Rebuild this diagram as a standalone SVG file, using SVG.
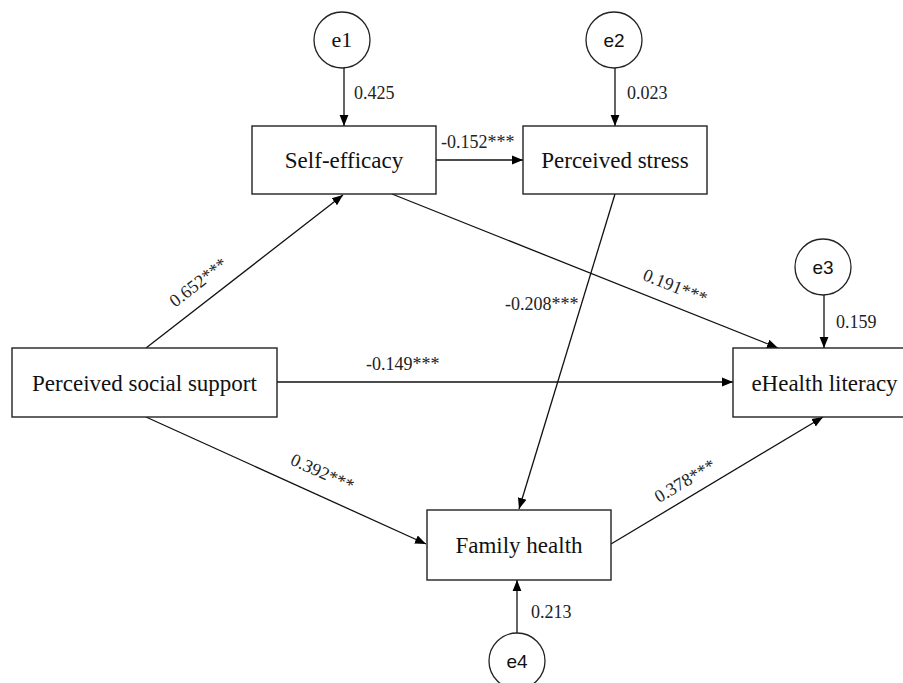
<svg xmlns="http://www.w3.org/2000/svg" width="903" height="683" viewBox="0 0 903 683">
<defs>
<marker id="arr" viewBox="0 0 10 10" refX="10" refY="5" markerWidth="11" markerHeight="11" markerUnits="userSpaceOnUse" orient="auto">
<path d="M0,1 L10,5 L0,9 Z" fill="#000"/>
</marker>
<style>
.box{fill:#fff;stroke:#222;stroke-width:1.4}
.circ{fill:#fff;stroke:#222;stroke-width:1.3}
.lbl{font-family:"Liberation Serif","Times New Roman",serif;font-size:23px;fill:#111;text-anchor:middle}
.err{font-family:"Liberation Sans",Arial,sans-serif;font-size:19px;fill:#111;text-anchor:middle}
.num{font-family:"Liberation Serif","Times New Roman",serif;font-size:18px;fill:#222}
.conn line{stroke:#111;stroke-width:1.3;marker-end:url(#arr)}
</style>
</defs>
<rect width="903" height="683" fill="#fff"/>
<g id="connectors" class="conn">
<line x1="344" y1="68" x2="344" y2="126"/>
<line x1="615" y1="68" x2="615" y2="126"/>
<line x1="824" y1="295" x2="824" y2="348"/>
<line x1="517" y1="633" x2="517" y2="580"/>
<line x1="436" y1="160" x2="523" y2="160"/>
<line x1="146" y1="348" x2="343" y2="195"/>
<line x1="277" y1="382" x2="733" y2="382"/>
<line x1="146" y1="417" x2="426" y2="544"/>
<line x1="392" y1="194" x2="778" y2="348"/>
<line x1="615" y1="194" x2="519" y2="509"/>
<line x1="611" y1="544" x2="823" y2="417"/>
</g>
<g id="labels">
<text class="num" x="354" y="99">0.425</text>
<text class="num" x="627" y="99">0.023</text>
<text class="num" x="836" y="328">0.159</text>
<text class="num" x="531" y="618">0.213</text>
<text class="num" x="441" y="148">-0.152***</text>
<text class="num" x="366" y="370">-0.149***</text>
<text class="num" x="505" y="310">-0.208***</text>
<text class="num" text-anchor="middle" transform="translate(202,287) rotate(-37.8)">0.652***</text>
<text class="num" text-anchor="middle" transform="translate(673,292) rotate(21.75)">0.191***</text>
<text class="num" text-anchor="middle" transform="translate(320,478) rotate(24.4)">0.392***</text>
<text class="num" text-anchor="middle" transform="translate(688,486) rotate(-30.9)">0.378***</text>
</g>
<g id="e1"><circle class="circ" cx="342" cy="40" r="28"/><text class="lbl" style="font-size:22px" x="342" y="47">e1</text></g>
<g id="e2"><circle class="circ" cx="614" cy="40" r="28"/><text class="err" x="614" y="47">e2</text></g>
<g id="e3"><circle class="circ" cx="823" cy="267" r="28"/><text class="err" x="823" y="274">e3</text></g>
<g id="e4"><circle class="circ" cx="517" cy="661" r="28"/><text class="err" x="517" y="668">e4</text></g>
<g id="self-efficacy"><rect class="box" x="252" y="126" width="184" height="68"/><text class="lbl" x="344" y="168">Self-efficacy</text></g>
<g id="perceived-stress"><rect class="box" x="523" y="126" width="184" height="68"/><text class="lbl" x="615" y="168">Perceived stress</text></g>
<g id="perceived-social-support"><rect class="box" x="12" y="348" width="265" height="69"/><text class="lbl" x="144.5" y="391">Perceived social support</text></g>
<g id="ehealth-literacy"><rect class="box" x="733" y="348" width="183" height="69"/><text class="lbl" x="824.5" y="391">eHealth literacy</text></g>
<g id="family-health"><rect class="box" x="427" y="510" width="184" height="70"/><text class="lbl" x="519" y="553">Family health</text></g>
</svg>
